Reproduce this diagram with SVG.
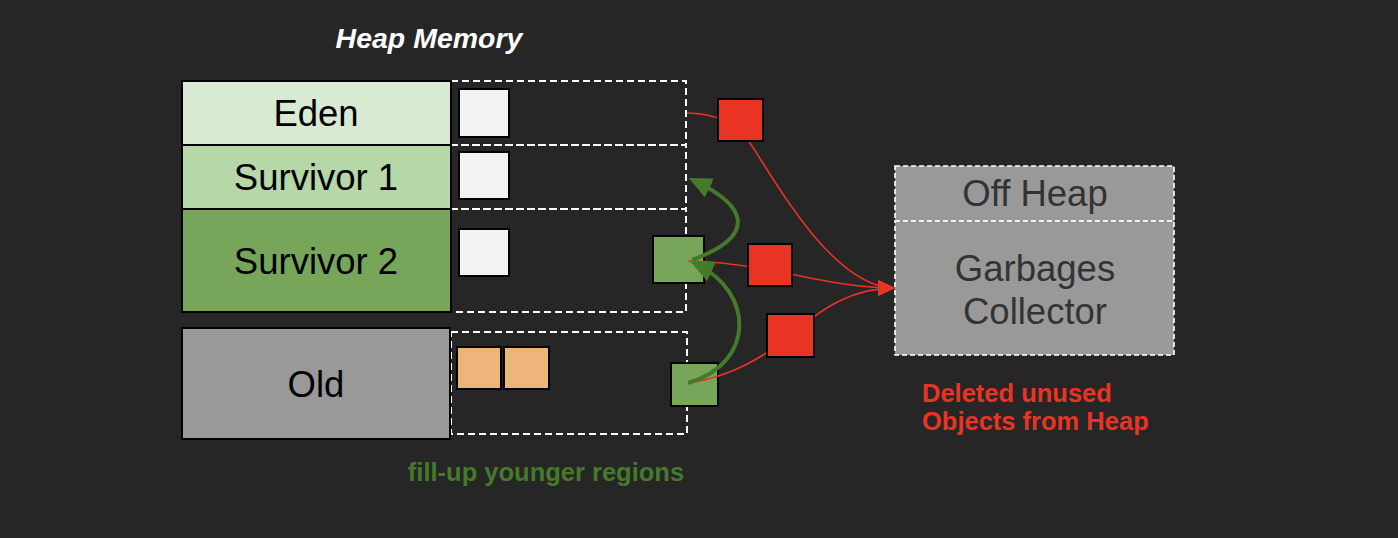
<svg xmlns="http://www.w3.org/2000/svg" width="1398" height="538" viewBox="0 0 1398 538">
  <style>
    .region { fill: none; stroke: #ffffff; stroke-width: 2; stroke-dasharray: 7 4; }
    .box { stroke: #000000; stroke-width: 2; }
    .boxtext { font-family: "Liberation Sans", Arial, sans-serif; font-size: 36.5px; fill: #000000; text-anchor: middle; }
    .offtext { font-family: "Liberation Sans", Arial, sans-serif; font-size: 36.5px; fill: #333333; text-anchor: middle; }
    .obj { stroke: #000000; stroke-width: 2; }
    .white { fill: #f3f3f3; }
    .orange { fill: #edb57a; }
    .green { fill: #77a65b; }
    .red { fill: #e93424; }
    .redline { fill: none; stroke: #e93424; stroke-width: 1.6; marker-end: url(#redArrow); }
    .greenline { fill: none; stroke: #467a2b; stroke-width: 4; marker-end: url(#greenArrow); }
    .offbox { fill: #999999; stroke: #ffffff; stroke-width: 1.6; stroke-dasharray: 5 3; }
    .label { font-family: "Liberation Sans", Arial, sans-serif; font-size: 25.5px; font-weight: bold; }
  </style>
  <defs>
    <marker id="redArrow" markerUnits="userSpaceOnUse" viewBox="0 0 17 16" markerWidth="17" markerHeight="16" refX="17" refY="8" orient="auto">
      <path d="M0,0 L17,8 L0,16 z" fill="#e93424"/>
    </marker>
    <marker id="greenArrow" markerUnits="userSpaceOnUse" viewBox="0 0 23 21" markerWidth="23" markerHeight="21" refX="16" refY="10.5" orient="auto">
      <path d="M0,0 L23,10.5 L0,21 z" fill="#467a2b"/>
    </marker>
  </defs>
  <rect x="0" y="0" width="1398" height="538" fill="#262626"/>

  <g id="title">
    <text x="429" y="48" font-family="'Liberation Sans', Arial, sans-serif" font-size="28.5" font-weight="bold" font-style="italic" fill="#ffffff" text-anchor="middle">Heap Memory</text>
  </g>

  <g id="regions">
    <rect class="region" x="451" y="81" width="235" height="64"/>
    <rect class="region" x="451" y="145" width="235" height="64"/>
    <rect class="region" x="451" y="209" width="235" height="103"/>
    <rect class="region" x="451" y="332" width="236" height="102"/>
  </g>

  <g id="eden">
    <rect class="box" x="182" y="81" width="269" height="64" fill="#d9ead3"/>
    <text class="boxtext" x="316" y="126">Eden</text>
  </g>
  <g id="survivor1">
    <rect class="box" x="182" y="145" width="269" height="64" fill="#b6d7a8"/>
    <text class="boxtext" x="316" y="190">Survivor 1</text>
  </g>
  <g id="survivor2">
    <rect class="box" x="182" y="209" width="269" height="103" fill="#77a65b"/>
    <text class="boxtext" x="316" y="274">Survivor 2</text>
  </g>
  <g id="old">
    <rect class="box" x="182" y="328" width="268" height="111" fill="#999999"/>
    <text class="boxtext" x="316" y="397">Old</text>
  </g>

  <g id="objects">
    <rect class="obj white" x="459" y="89" width="50" height="48"/>
    <rect class="obj white" x="459" y="152" width="50" height="47"/>
    <rect class="obj white" x="459" y="229" width="50" height="47"/>
    <rect class="obj orange" x="457" y="347" width="44" height="42"/>
    <rect class="obj orange" x="504" y="347" width="45" height="42"/>
  </g>

  <g id="green-objects">
    <rect class="obj green" x="653" y="236" width="51" height="47"/>
    <rect class="obj green" x="671" y="363" width="47" height="43"/>
  </g>

  <g id="connectors">
    <path class="redline" d="M 687 113 C 712 113, 735 122, 748 140 C 768 168, 830 288, 895 288"/>
    <path class="redline" d="M 688 261 C 720 261, 760 268, 790 274 C 830 282, 860 288, 895 288"/>
    <path class="redline" d="M 688 383 C 725 378, 760 360, 790 336 C 820 310, 850 288, 895 288"/>
    <path class="greenline" d="M 692 260 C 760 235, 745 205, 695 181"/>
    <path class="greenline" d="M 688 383 C 758 362, 752 290, 697 265"/>
  </g>

  <g id="deleted-objects">
    <rect class="obj red" x="718" y="99" width="45" height="42"/>
    <rect class="obj red" x="748" y="244" width="44" height="42"/>
    <rect class="obj red" x="767" y="314" width="47" height="43"/>
  </g>

  <g id="offheap">
    <rect class="offbox" x="895" y="166" width="279" height="55"/>
    <text class="offtext" x="1035" y="206">Off Heap</text>
  </g>
  <g id="gc">
    <rect class="offbox" x="895" y="221" width="279" height="134"/>
    <text class="offtext" x="1035" y="281">Garbages</text>
    <text class="offtext" x="1035" y="324">Collector</text>
  </g>

  <g id="labels">
    <text class="label" x="922" y="402" fill="#e93424">Deleted unused</text>
    <text class="label" x="922" y="430" fill="#e93424">Objects from Heap</text>
    <text class="label" x="546" y="481" fill="#467a2b" text-anchor="middle">fill-up younger regions</text>
  </g>
</svg>
